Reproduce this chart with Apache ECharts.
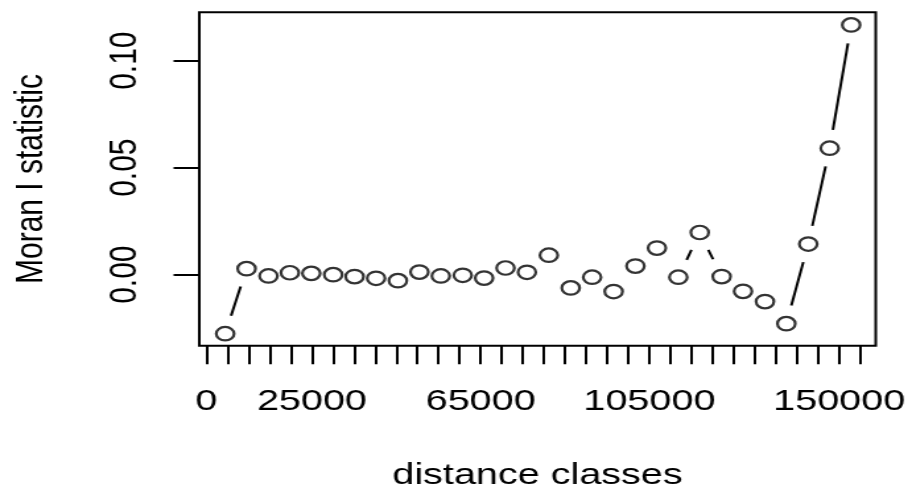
<!DOCTYPE html>
<html>
<head>
<meta charset="utf-8">
<script src="https://cdn.jsdelivr.net/npm/echarts@6/dist/echarts.min.js"></script>
<style>
html, body { margin: 0; padding: 0; background: #fff; overflow: hidden; }
#wrap { width: 912px; height: 498px; overflow: hidden; }
#c { width: 691px; height: 498px; transform: scaleX(1.3198); transform-origin: 0 0; }
</style>
</head>
<body>
<div id="wrap"><div id="c"></div></div>
<script>
// distance class centres (x) and Moran I statistic (y)
const distanceClasses = [4430, 9510, 14700, 19770, 24850, 30040, 35110, 40210, 45380, 50480,
  55550, 60750, 65820, 70890, 75970, 81160, 86350, 91430, 96520, 101690,
  106790, 111860, 116940, 122130, 127200, 132400, 137470, 142660, 147740, 152840];
const moranI = [-0.0276, 0.0028, -0.0006, 0.0009, 0.0006, 0.0000, -0.0009, -0.0017, -0.0028, 0.0012,
  -0.0006, -0.0003, -0.0016, 0.0031, 0.0011, 0.0091, -0.0062, -0.0012, -0.0079, 0.0040,
  0.0124, -0.0012, 0.0197, -0.0009, -0.0078, -0.0126, -0.0229, 0.0143, 0.0591, 0.1167];
// axis ticks and labels
const xTickValues = [0, 5000, 10000, 15000, 20000, 25000, 30000, 35000, 40000, 45000,
  50000, 55000, 60000, 65000, 70000, 75000, 80000, 85000, 90000, 95000,
  100000, 105000, 110000, 115000, 120000, 125000, 130000, 135000, 140000, 145000,
  150000, 155000];
const xLabelValues = [0, 25000, 65000, 105000, 150000];
const yTickValues = [0, 0.05, 0.10];
const xTitle = 'distance classes';
const yTitle = 'Moran I statistic';

const points = distanceClasses.map((x, i) => [x, moranI[i]]);
const segments = [];
for (let i = 0; i < points.length - 1; i++) {
  segments.push([points[i][0], points[i][1], points[i + 1][0], points[i + 1][1]]);
}

const FONT = 'Liberation Sans, Arial, Helvetica, sans-serif';
const GAP = 18.5;

const chart = echarts.init(document.getElementById('c'), null, { renderer: 'canvas', width: 691, height: 498 });
chart.setOption({
  animation: false,
  backgroundColor: '#ffffff',
  grid: {
    left: 151, right: 27.5, top: 12.3, bottom: 152.3,
    show: true, borderColor: '#000', borderWidth: 2, backgroundColor: 'transparent',
    containLabel: false, outerBoundsMode: 'none'
  },
  xAxis: {
    type: 'value', min: -1700, max: 158650,
    name: xTitle, nameLocation: 'middle', nameGap: 115,
    nameTextStyle: { fontFamily: FONT, fontSize: 30, color: '#000' },
    axisLine: { show: false, onZero: false },
    splitLine: { show: false },
    axisTick: { show: true, inside: false, length: 18.5, customValues: xTickValues,
      lineStyle: { color: '#000', width: 2 } },
    axisLabel: { show: true, customValues: xLabelValues, margin: 41,
      fontFamily: FONT, fontSize: 30, color: '#000', formatter: v => String(v) }
  },
  yAxis: {
    type: 'value', min: -0.0332, max: 0.1226,
    name: yTitle, nameLocation: 'middle', nameGap: 112,
    nameTextStyle: { fontFamily: FONT, fontSize: 30, color: '#000' },
    axisLine: { show: false, onZero: false },
    splitLine: { show: false },
    axisTick: { show: true, inside: false, length: 19.5, customValues: yTickValues,
      lineStyle: { color: '#000', width: 2 } },
    axisLabel: { show: true, customValues: yTickValues, margin: 41, rotate: 90,
      fontFamily: FONT, fontSize: 30, color: '#000', formatter: v => v.toFixed(2) }
  },
  series: [
    {
      type: 'custom',
      data: segments,
      encode: { x: [0, 2], y: [1, 3] },
      silent: true,
      renderItem: function (params, api) {
        const p0 = api.coord([api.value(0), api.value(1)]);
        const p1 = api.coord([api.value(2), api.value(3)]);
        const dx = p1[0] - p0[0], dy = p1[1] - p0[1];
        const d = Math.sqrt(dx * dx + dy * dy);
        if (d <= 2 * GAP) return null;
        const ux = dx / d, uy = dy / d;
        return {
          type: 'line',
          shape: { x1: p0[0] + ux * GAP, y1: p0[1] + uy * GAP, x2: p1[0] - ux * GAP, y2: p1[1] - uy * GAP },
          style: { stroke: '#000', lineWidth: 2 }
        };
      }
    },
    {
      type: 'scatter',
      data: points,
      symbol: 'circle',
      symbolSize: 13.5,
      itemStyle: { color: 'rgba(0,0,0,0)', borderColor: '#000', borderWidth: 2.2 },
      emphasis: { disabled: true }
    }
  ]
});
</script>
</body>
</html>
